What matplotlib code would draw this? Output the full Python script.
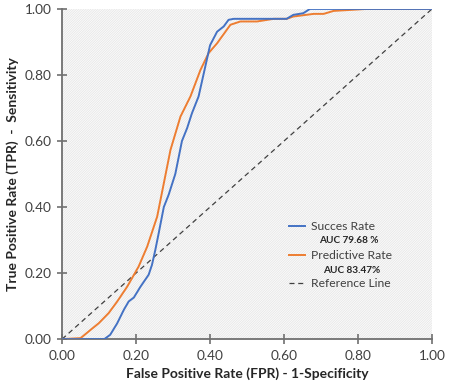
import numpy as np
import matplotlib
matplotlib.use('Agg')
import matplotlib.pyplot as plt
from matplotlib.patches import Rectangle
from matplotlib.lines import Line2D

plt.rcParams['font.family'] = ['Lato', 'DejaVu Sans']
plt.rcParams['hatch.linewidth'] = 0.5

# success rate curve (FPR, TPR)
succ_fpr = [0.0, 0.114, 0.13, 0.149, 0.167, 0.18, 0.194, 0.212, 0.234, 0.243, 0.252,
            0.261, 0.275, 0.288, 0.306, 0.324, 0.338, 0.351, 0.369, 0.387, 0.40,
            0.419, 0.437, 0.45, 0.464, 0.607, 0.625, 0.652, 0.67, 1.0]
succ_tpr = [0.0, 0.0, 0.013, 0.048, 0.089, 0.114, 0.126, 0.159, 0.195, 0.225, 0.27,
            0.32, 0.40, 0.437, 0.50, 0.60, 0.639, 0.684, 0.735, 0.825, 0.89,
            0.931, 0.947, 0.967, 0.97, 0.97, 0.982, 0.987, 1.0, 1.0]

# predictive rate curve
pred_fpr = [0.0, 0.05, 0.077, 0.099, 0.126, 0.149, 0.176, 0.207, 0.23, 0.257, 0.275,
            0.293, 0.32, 0.347, 0.374, 0.396, 0.419, 0.455, 0.482, 0.527, 0.572,
            0.607, 0.625, 0.68, 0.707, 0.734, 0.824, 1.0]
pred_tpr = [0.0, 0.003, 0.028, 0.048, 0.079, 0.114, 0.159, 0.22, 0.28, 0.371, 0.472,
            0.573, 0.674, 0.735, 0.815, 0.866, 0.896, 0.952, 0.962, 0.962, 0.97,
            0.97, 0.977, 0.985, 0.985, 0.994, 1.0, 1.0]

ref = [0.0, 1.0]
ticks = [0.0, 0.2, 0.4, 0.6, 0.8, 1.0]

blue = '#4472C4'
orange = '#ED7D31'

fig = plt.figure(figsize=(4.5, 3.88), dpi=100)
ax = fig.add_axes([0.138, 0.126, 0.822, 0.851])

ax.add_patch(Rectangle((0, 0), 1, 1, transform=ax.transAxes, facecolor='#fbfbfb',
                       edgecolor='#e4e4e4', hatch='//////////////', linewidth=0, zorder=0))

ax.plot(ref, ref, color='#404040', linestyle=(0, (4, 3)), linewidth=0.9, zorder=2)
ax.plot(pred_fpr, pred_tpr, color=orange, linewidth=1.4, zorder=3)
ax.plot(succ_fpr, succ_tpr, color=blue, linewidth=1.4, zorder=4)

ax.set_xlim(0, 1)
ax.set_ylim(0, 1)
ax.set_xticks(ticks)
ax.set_yticks(ticks)
ax.set_xticklabels(['%.2f' % t for t in ticks])
ax.set_yticklabels(['%.2f' % t for t in ticks])
ax.tick_params(direction='inout', length=7, width=1.2, color='#707070',
               labelsize=9.8, labelcolor='#404040', pad=4)

for s in ['top', 'right']:
    ax.spines[s].set_visible(False)
for s in ['left', 'bottom']:
    ax.spines[s].set_color('#707070')
    ax.spines[s].set_linewidth(1.3)

ax.set_xlabel('False Positive Rate (FPR) - 1-Specificity', fontsize=10,
              fontweight='bold', color='#262626', labelpad=4)
ax.set_ylabel('True Positive Rate (TPR)  -  Sensitivity', fontsize=10,
              fontweight='bold', color='#262626', labelpad=4)

handles = [Line2D([], [], color=blue, linewidth=1.4),
           Line2D([], [], color=orange, linewidth=1.4),
           Line2D([], [], color='#404040', linestyle=(0, (4, 3)), linewidth=0.9)]
labels = ['Succes Rate', 'Predictive Rate', 'Reference Line']
leg = ax.legend(handles, labels, frameon=False, fontsize=8.7, labelspacing=1.45,
                handlelength=1.3, handletextpad=0.5,
                loc='upper left', bbox_to_anchor=(0.585, 0.39))
for t in leg.get_texts():
    t.set_color('#404040')

ax.text(0.855, 0.3, 'AUC 79.68 %', transform=ax.transAxes, fontsize=7.2,
        fontweight='bold', color='#262626', ha='right', va='center')
ax.text(0.859, 0.208, 'AUC 83.47%', transform=ax.transAxes, fontsize=7.2,
        fontweight='bold', color='#262626', ha='right', va='center')

fig.savefig('out.png', dpi=100)
